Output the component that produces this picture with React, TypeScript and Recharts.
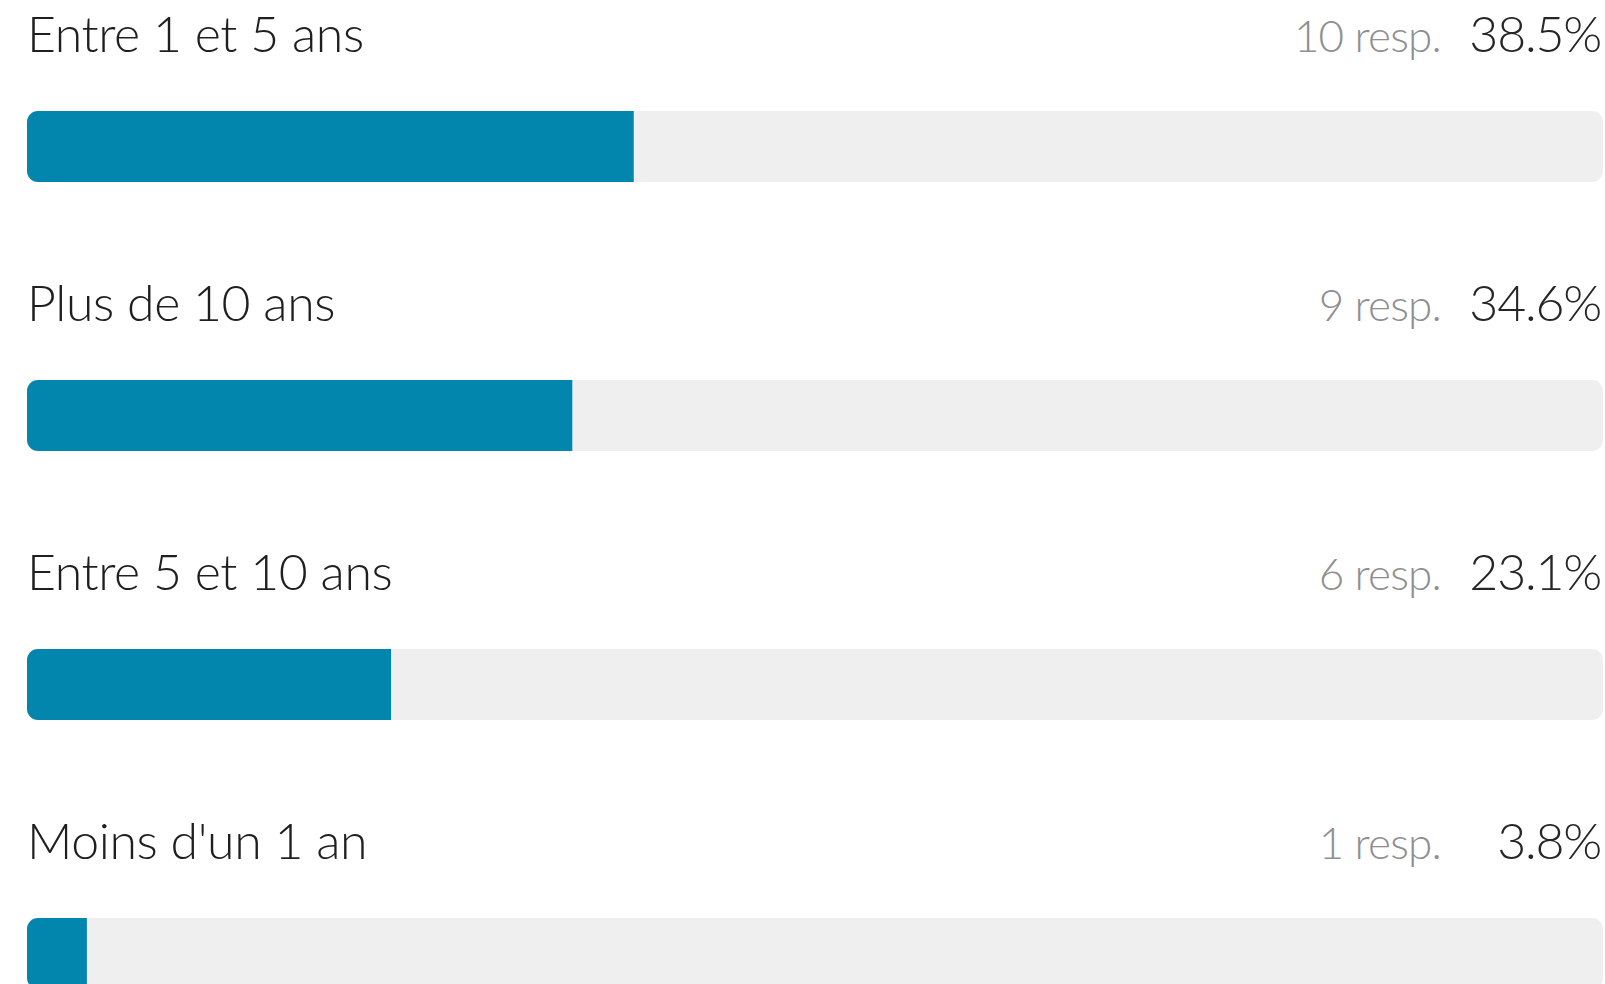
import React from 'react';
import { BarChart, Bar, XAxis, YAxis, LabelList } from 'recharts';

const categories = ['Entre 1 et 5 ans', 'Plus de 10 ans', 'Entre 5 et 10 ans', "Moins d'un 1 an"];
const responses = [10, 9, 6, 1];
const percentages = [38.5, 34.6, 23.1, 3.8];

const data = categories.map((name, i) => ({
    name,
    resp: responses[i],
    pct: percentages[i],
}));

const FONT = 'Lato, "Open Sans", sans-serif';

const RowLabel = (props: any) => {
    const { y, height, index } = props;
    const base = Number(y) + Number(height) / 2 - 95;
    return (
        <g fontFamily={FONT} fontWeight={300}>
            <text x={27} y={base} fill="#1f1f1f" fontSize={50} letterSpacing={-0.4} textAnchor="start">
                {categories[index]}
            </text>
            <text x={1441} y={base} fill="#8f8f8f" fontSize={44} letterSpacing={-0.8} textAnchor="end">
                {`${responses[index]} resp.`}
            </text>
            <text x={1601} y={base} fill="#262626" fontSize={50} letterSpacing={-1.2} textAnchor="end">
                {`${percentages[index].toFixed(1)}%`}
            </text>
        </g>
    );
};

const App: React.FC = () => {
    return (
        <div
            style={{
                position: 'fixed',
                left: 0,
                top: 0,
                width: 1605,
                height: 984,
                overflow: 'hidden',
                background: '#ffffff',
            }}
        >
            <BarChart
                width={1605}
                height={1100}
                data={data}
                layout="vertical"
                margin={{ top: 12, right: 2, left: 27, bottom: 12 }}
            >
                <XAxis type="number" domain={[0, 100]} hide />
                <YAxis type="category" dataKey="name" hide />
                <Bar
                    dataKey="pct"
                    fill="#0386ae"
                    barSize={71}
                    radius={[11, 0, 0, 11]}
                    background={{ fill: '#efefef', radius: 11 }}
                    isAnimationActive={false}
                >
                    <LabelList dataKey="name" content={<RowLabel />} />
                </Bar>
            </BarChart>
        </div>
    );
};

export default App;
